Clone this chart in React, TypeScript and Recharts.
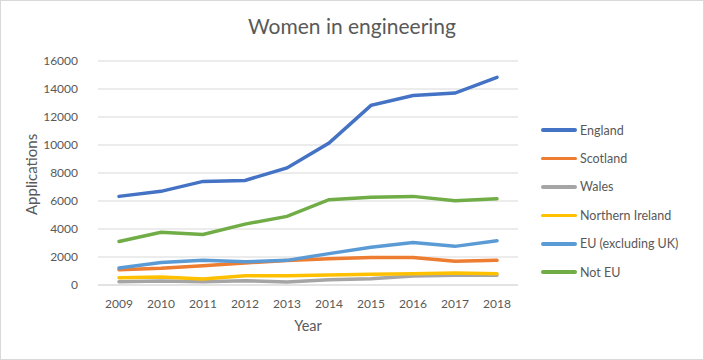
import { LineChart, Line, XAxis, YAxis, CartesianGrid } from "recharts";

const years = ["2009", "2010", "2011", "2012", "2013", "2014", "2015", "2016", "2017", "2018"];
const england = [6330, 6690, 7400, 7470, 8360, 10140, 12830, 13540, 13710, 14830];
const scotland = [1090, 1190, 1380, 1570, 1750, 1880, 1970, 1970, 1690, 1760];
const wales = [240, 290, 230, 310, 210, 380, 450, 640, 700, 700];
const northernIreland = [520, 570, 430, 660, 660, 710, 760, 800, 850, 800];
const eu = [1210, 1610, 1760, 1660, 1760, 2240, 2690, 3040, 2760, 3160];
const notEu = [3110, 3760, 3610, 4350, 4900, 6090, 6260, 6330, 6020, 6160];
const yTicks = [0, 2000, 4000, 6000, 8000, 10000, 12000, 14000, 16000];

const series = [
  { key: "England", values: england, color: "#4472C4" },
  { key: "Scotland", values: scotland, color: "#ED7D31" },
  { key: "Wales", values: wales, color: "#A5A5A5" },
  { key: "Northern Ireland", values: northernIreland, color: "#FFC000" },
  { key: "EU (excluding UK)", values: eu, color: "#5B9BD5" },
  { key: "Not EU", values: notEu, color: "#70AD47" },
];

const data = years.map((year, i) => {
  const row: Record<string, string | number> = { year };
  series.forEach((s) => {
    row[s.key] = s.values[i];
  });
  return row;
});

const font = "Lato, 'Open Sans', sans-serif";

export default function App() {
  return (
    <div style={{ position: "relative", width: 704, height: 360, background: "#fff" }}>
      <style>{`body{margin:0}`}</style>
      <div
        style={{
          position: "absolute",
          top: 0,
          left: 0,
          width: 702,
          height: 358,
          border: "1px solid #d9d9d9",
        }}
      />
      <div
        style={{
          position: "absolute",
          top: 13,
          left: 0,
          width: 704,
          textAlign: "center",
          fontFamily: font,
          fontSize: 21,
          color: "#595959",
        }}
      >
        Women in engineering
      </div>
      <LineChart
        width={704}
        height={360}
        data={data}
        margin={{ top: 61, right: 186, bottom: 45, left: 0 }}
        style={{ position: "absolute", top: 0, left: 0 }}
      >
        <CartesianGrid vertical={false} stroke="#d9d9d9" strokeWidth={1} />
        <XAxis
          dataKey="year"
          padding={{ left: 21, right: 21 }}
          axisLine={{ stroke: "#d9d9d9" }}
          tickLine={false}
          tickMargin={8}
          tick={{ fill: "#595959", fontSize: 12, fontFamily: font }}
          label={{ value: "Year", position: "insideBottom", offset: -16, fill: "#595959", fontSize: 14.5, fontFamily: font }}
        />
        <YAxis
          width={98}
          domain={[0, 16000]}
          ticks={yTicks}
          axisLine={false}
          tickLine={false}
          tickMargin={14}
          tick={{ fill: "#595959", fontSize: 12, fontFamily: font }}
          label={{
            value: "Applications",
            angle: -90,
            position: "insideLeft",
            offset: 32,
            dy: 42,
            fill: "#595959",
            fontSize: 15,
            fontFamily: font,
          }}
        />
        {series.map((s) => (
          <Line
            key={s.key}
            dataKey={s.key}
            stroke={s.color}
            strokeWidth={3.5}
            dot={false}
            isAnimationActive={false}
            strokeLinecap="round"
          />
        ))}
      </LineChart>
      <div
        style={{
          position: "absolute",
          left: 541,
          top: 116,
          fontFamily: font,
          fontSize: 12.5,
          color: "#595959",
        }}
      >
        {series.map((s) => (
          <div key={s.key} style={{ display: "flex", alignItems: "center", height: 28.4 }}>
            <div style={{ width: 36, height: 3.5, background: s.color, borderRadius: 2, marginRight: 3 }} />
            <span>{s.key}</span>
          </div>
        ))}
      </div>
    </div>
  );
}
